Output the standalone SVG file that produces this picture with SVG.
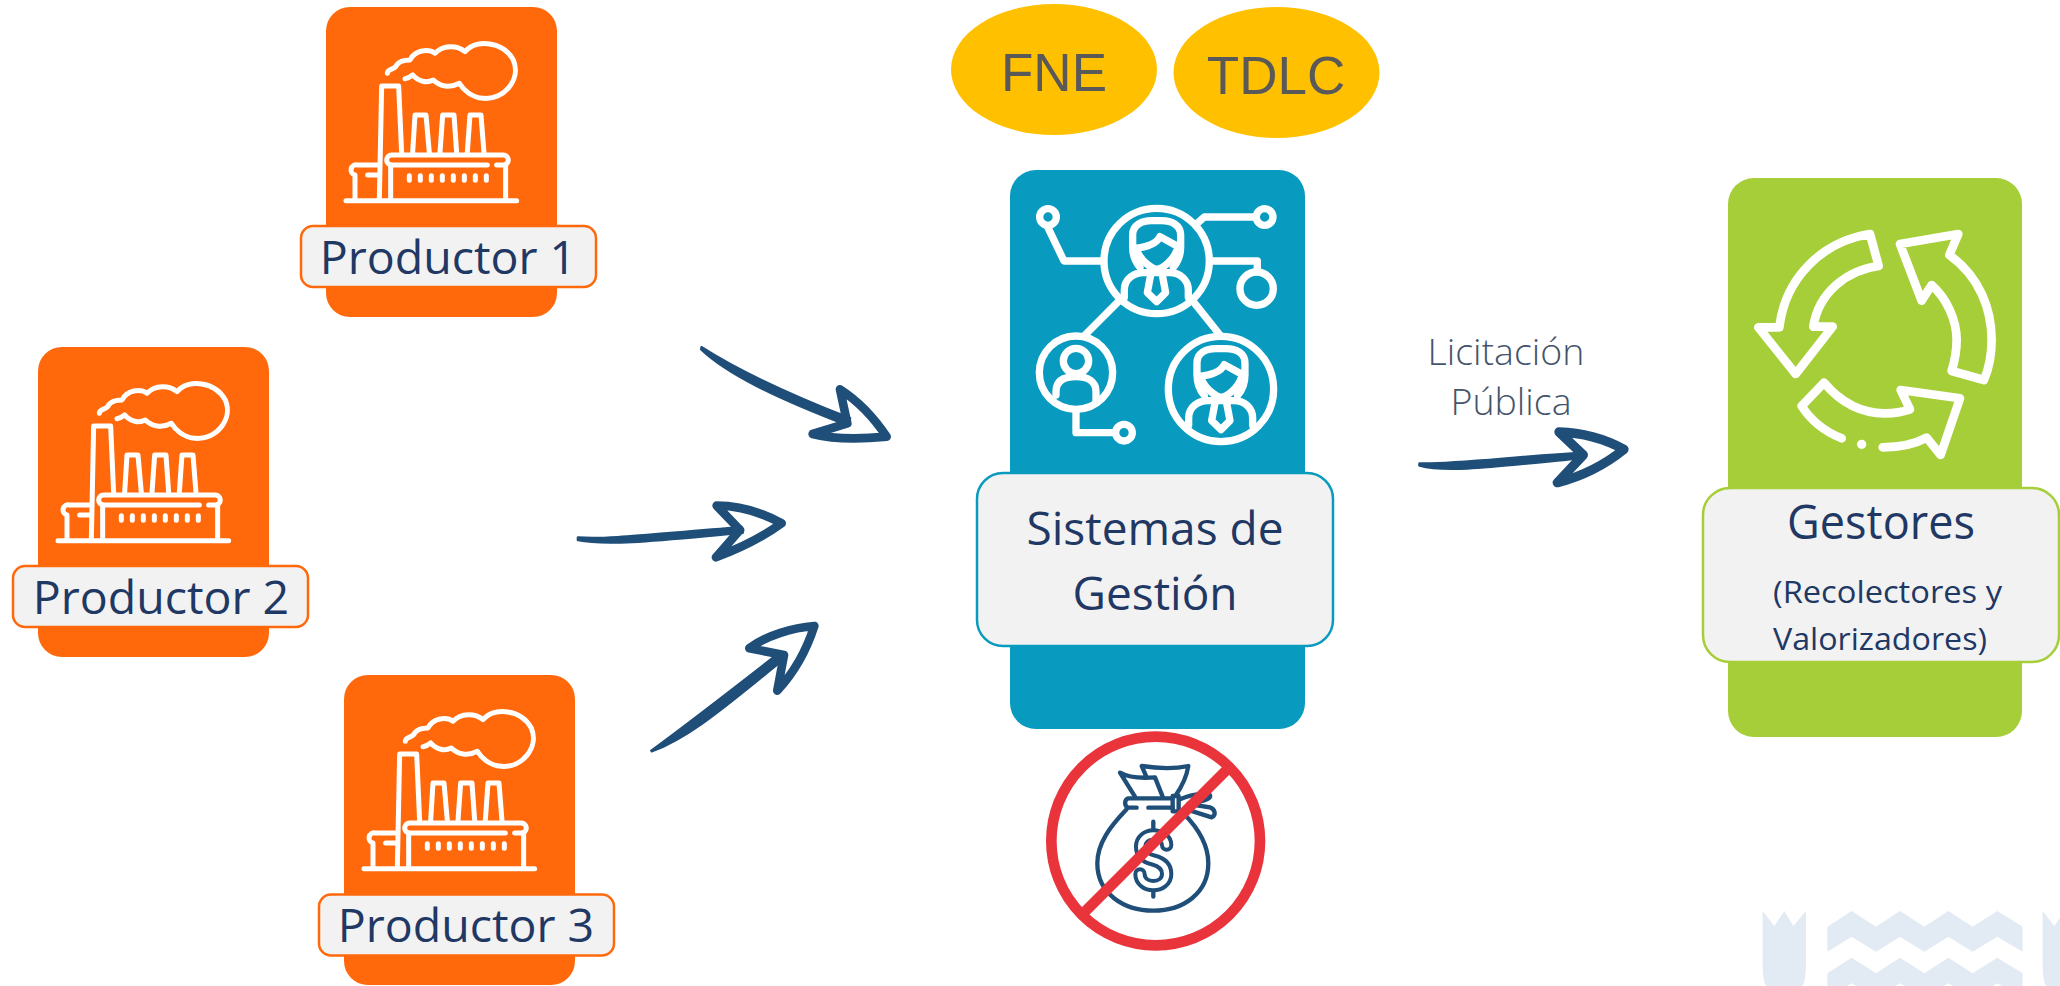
<svg xmlns="http://www.w3.org/2000/svg" width="2060" height="986" viewBox="0 0 2060 986">
<style>
.lbl{font-family:"Open Sans","Noto Sans",sans-serif;fill:#1F3864;text-anchor:middle}
.w{fill:none;stroke:#fff;stroke-linecap:round;stroke-linejoin:round}
.n{fill:none;stroke:#1F4E79;stroke-linecap:round;stroke-linejoin:round}
.pill{fill:#F2F2F2;stroke-width:2.5}
.oval{font-family:"Liberation Sans",Arial,sans-serif;font-size:53px;fill:#595959;text-anchor:middle}
</style>
<defs>
<g id="factory" class="w" stroke-width="15">
<path d="M238 600L245 258H296L305 460"/>
<path d="M338 458L345 345H378L388 458M420 458L428 345H462L470 458M502 458L510 345H543L552 458"/>
<path d="M562 495H275A15 15 0 0 1 275 465H610A15 15 0 0 1 610 495H590"/>
<path d="M272 495V600M617 495V600M138 602H650"/>
<path d="M238 495H172A14 14 0 0 0 165 525V600M203 525H238"/>
<path d="M328 527V541M361 527V541M394 527V541M427 527V541M460 527V541M493 527V541M526 527V541M559 527V541"/>
<path d="M262 220C262 205 285 210 290 195C300 180 320 180 330 180C345 150 385 145 405 160C430 135 470 135 495 155C530 115 610 125 640 180C665 240 610 300 550 295C515 292 490 270 478 250C450 265 420 260 400 240C380 250 355 245 338 225C330 232 325 235 315 236"/>
</g>
<g id="person" class="w" stroke-width="22">
<path d="M540 322C525 305 518 285 518 260V225C518 195 545 182 575 182H605C635 182 662 195 662 225V260C662 285 655 305 640 322"/>
<path d="M522 265C560 262 590 250 600 230L658 262"/>
<path d="M532 275C545 305 575 325 590 328C610 325 640 300 650 272"/>
<path d="M493 412V390C493 355 525 338 550 338H630C660 338 685 360 685 390V412"/>
<path d="M572 345L562 398L590 425L617 398L607 345"/>
</g>
</defs>

<g id="watermark" transform="translate(1740,880) scale(.3333)" fill="#E2EAF3">
<path d="M68 93L103 138L133 93L160 138L198 93V250C198 290 192 318 185 318H80C74 318 68 290 68 250Z"/>
<path d="M262 140L335 93L408 140L480 93L553 140L625 93L698 140L772 93L848 140V215L772 170L698 215L625 170L553 215L480 170L408 215L335 170L262 215Z"/>
<path d="M262 280L335 233L408 280L480 233L553 280L625 233L698 280L772 233L848 280V318H262Z"/>
<path d="M320 318L335 310L350 318ZM465 318L480 310L495 318ZM610 318L625 310L640 318ZM757 318L772 310L787 318Z" fill="#fff"/>
<path d="M908 93L943 138L973 93V318H920C914 318 908 290 908 250Z"/>
</g>

<g id="productor1">
<rect x="326" y="7" width="231" height="310" rx="24" fill="#FF690B"/>
<use href="#factory" transform="translate(300,0) scale(.3333)"/>
<rect class="pill" x="301" y="226" width="295" height="61" rx="12" stroke="#FF690B"/>
<text class="lbl" x="448" y="274" font-size="46.5">Productor 1</text>
</g>
<g id="productor2">
<rect x="38" y="347" width="231" height="310" rx="24" fill="#FF690B"/>
<use href="#factory" transform="translate(12,340) scale(.3333)"/>
<rect class="pill" x="13" y="566" width="295" height="61" rx="12" stroke="#FF690B"/>
<text class="lbl" x="161" y="614" font-size="46.5">Productor 2</text>
</g>
<g id="productor3">
<rect x="344" y="675" width="231" height="310" rx="24" fill="#FF690B"/>
<use href="#factory" transform="translate(318,668) scale(.3333)"/>
<rect class="pill" x="319" y="894.5" width="295" height="61" rx="12" stroke="#FF690B"/>
<text class="lbl" x="466" y="942" font-size="46.5">Productor 3</text>
</g>

<g id="fne"><ellipse cx="1054" cy="69.5" rx="103" ry="65.5" fill="#FFC000"/><text class="oval" x="1054" y="91">FNE</text></g>
<g id="tdlc"><ellipse cx="1276.5" cy="72.5" rx="103" ry="65.5" fill="#FFC000"/><text class="oval" x="1276" y="94">TDLC</text></g>

<g id="sistemas">
<rect x="1010" y="170" width="295" height="559" rx="26" fill="#099ABF"/>
<g transform="translate(960,160) scale(.3333)">
<g class="w" stroke-width="22">
<circle cx="590" cy="303" r="158"/><circle cx="783" cy="687" r="158"/><circle cx="348" cy="638" r="110"/>
<circle cx="264" cy="171" r="25"/><circle cx="914" cy="171" r="25"/><circle cx="890" cy="386" r="50"/><circle cx="492" cy="818" r="25"/>
<path d="M265 205L312 303H425M712 190L733 171H880M755 303H892V335M475 425L375 525M700 425L780 525M348 755V818H460"/>
<circle cx="348" cy="603" r="38"/>
<path d="M288 705V695C288 660 315 650 348 650C385 650 408 665 408 695V725"/>
</g>
<use href="#person"/>
<use href="#person" transform="translate(193,384)"/>
</g>
<rect class="pill" x="977" y="473" width="356" height="173" rx="26" stroke="#099ABF"/>
<text class="lbl" x="1155" y="545" font-size="46">Sistemas de</text>
<text class="lbl" x="1155" y="610" font-size="46">Gestión</text>
</g>

<g id="gestores">
<rect x="1728" y="178" width="294" height="559" rx="26" fill="#A6CE39"/>
<g transform="translate(1690,170) scale(.3333)" class="w" stroke-width="26">
<path d="M540 192L566 288C470 300 385 370 370 470H428L317 612L205 472H268C285 325 395 215 540 192Z"/>
<path d="M630 222L805 192L778 255C870 320 905 420 905 510C905 560 895 600 882 630L785 603C795 570 800 540 800 510C800 450 770 385 725 345L695 392Z"/>
<path d="M455 805C405 785 365 755 335 708L402 638C450 695 510 730 585 730C615 730 640 725 660 718L632 660L810 685L752 855L710 803C670 825 625 832 578 832"/>
<circle cx="515" cy="823" r="14" fill="#fff" stroke="none"/>
</g>
<rect class="pill" x="1703" y="488" width="356" height="174" rx="27" stroke="#A6CE39"/>
<text class="lbl" x="1881" y="539" font-size="47" textLength="188" lengthAdjust="spacingAndGlyphs">Gestores</text>
<text class="lbl" x="1887.5" y="603" font-size="31" textLength="229" lengthAdjust="spacingAndGlyphs">(Recolectores y</text>
<text class="lbl" x="1880" y="650" font-size="31" textLength="214" lengthAdjust="spacingAndGlyphs">Valorizadores)</text>
</g>

<g id="no-money">
<g transform="translate(1020,720) scale(.3333)">
<g class="n" stroke-width="13">
<path d="M320 268C270 320 232 370 232 430C232 520 310 572 400 572C490 572 565 520 565 430C565 370 530 320 490 280"/>
<path d="M350 263H325A15 15 0 0 1 325 235H458M385 263H458"/>
<rect x="458" y="228" width="18" height="46"/>
<path d="M345 230L300 158C330 175 370 175 405 172L428 230M380 172L365 138C410 145 460 148 505 138C500 170 485 200 468 225"/>
<path d="M480 238C510 225 540 218 570 225C575 240 540 245 505 252M500 268L575 292C590 285 585 268 570 262L525 255"/>
<path d="M400 305V335M400 495V530"/>
<path d="M440 375C440 355 420 345 400 345C380 345 362 358 362 380C362 405 380 415 400 420C420 425 440 435 440 462C440 485 420 497 400 497C380 497 360 485 360 462" stroke-width="40"/>
<path d="M440 375C440 355 420 345 400 345C380 345 362 358 362 380C362 405 380 415 400 420C420 425 440 435 440 462C440 485 420 497 400 497C380 497 360 485 360 462" stroke="#fff" stroke-width="16"/>
</g>
<circle cx="407" cy="363" r="313" fill="none" stroke="#E9343C" stroke-width="32"/>
<path d="M190 580L625 145" stroke="#E9343C" stroke-width="32" fill="none"/>
</g>
</g>

<g id="connectors">
<g transform="translate(560,330) scale(.3333)" fill="#1F4E79" stroke="#1F4E79" stroke-linejoin="round" stroke-linecap="round">
<path stroke-width="8" d="M425 52C500 100 640 175 870 265L862 285C640 200 500 130 424 58Z"/>
<path fill="none" stroke-width="26" d="M840 178L862 280L758 312C820 328 900 328 980 320C940 260 890 210 840 178Z"/>
<path stroke-width="8" d="M54 623C150 630 300 610 545 592L548 608C350 625 150 650 54 630Z"/>
<path fill="none" stroke-width="26" d="M470 527C540 527 610 550 665 580C610 620 540 655 468 682L540 600Z"/>
<path stroke-width="4" d="M272 1262C370 1190 500 1090 660 965L678 985C520 1110 400 1220 275 1266Z"/>
<path fill="none" stroke-width="26" d="M763 888C700 893 620 915 568 955L672 975L652 1082C700 1030 740 960 763 888Z"/>
</g>
<g transform="translate(1400,320) scale(.3333)" fill="#1F4E79" stroke="#1F4E79" stroke-linejoin="round" stroke-linecap="round">
<path stroke-width="9" d="M59 431C150 435 350 410 550 399L553 413C350 430 150 462 59 436Z"/>
<path fill="none" stroke-width="28" d="M477 336C550 338 620 360 672 388C620 430 550 468 472 488L550 405Z"/>
</g>
</g>
<g id="licitacion" font-family="'Open Sans',sans-serif" font-weight="300" font-size="37.5" fill="#44546A" text-anchor="middle">
<text x="1506" y="365">Licitación</text>
<text x="1511" y="415">Pública</text>
</g>
</svg>
